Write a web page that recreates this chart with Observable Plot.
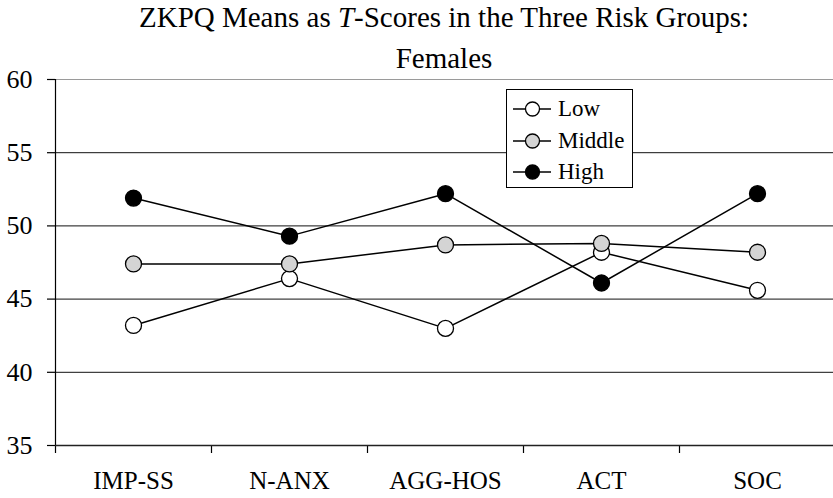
<!DOCTYPE html>
<html>
<head>
<meta charset="utf-8">
<script src="https://cdn.jsdelivr.net/npm/d3@7"></script>
<script src="https://cdn.jsdelivr.net/npm/@observablehq/plot@0.6"></script>
<style>
  html, body { margin: 0; padding: 0; background: white; }
  #wrap { position: relative; width: 833px; height: 498px; overflow: hidden; font-family: "Times New Roman", "Liberation Serif", Tinos, "DejaVu Serif", serif; }
  #title { position: absolute; top: -3px; left: 55px; width: 778px; text-align: center; font-size: 29px; line-height: 41px; color: black; white-space: nowrap; }
  #legend { position: absolute; left: 506px; top: 89px; width: 125px; height: 97px; border: 1px solid black; background: white; box-sizing: content-box; }
  .row { position: absolute; left: 0; height: 32px; width: 125px; font-size: 23px; }
  .row svg { position: absolute; left: 4px; top: 0; }
  .row span { position: absolute; left: 51px; top: 1px; line-height: 30px; }
</style>
</head>
<body>
<div id="wrap">
  <div id="chart"></div>
  <div id="title">ZKPQ Means as <i>T</i>-Scores in the Three Risk Groups:<br>Females</div>
  <div id="legend"></div>
</div>
<script>
const categories = ["IMP-SS", "N-ANX", "AGG-HOS", "ACT", "SOC"];
const groups = ["Low", "Middle", "High"];
const low    = [43.2, 46.4, 43.0, 48.2, 45.6];
const middle = [47.4, 47.4, 48.7, 48.8, 48.2];
const high   = [51.9, 49.3, 52.2, 46.1, 52.2];
const yTicks = [35, 40, 45, 50, 55, 60];
const groupFills = ["white", "#d4d4d4", "black"];

const seriesValues = [low, middle, high];
const data = [];
groups.forEach((g, gi) => {
  categories.forEach((c, ci) => {
    data.push({group: g, category: c, pos: ci + 0.5, value: seriesValues[gi][ci]});
  });
});
const bandEdges = categories.map((c, i) => i);
const bandCenters = categories.map((c, i) => i + 0.5);
const serif = "'Times New Roman', 'Liberation Serif', Tinos, serif";

const chart = Plot.plot({
  width: 833,
  height: 498,
  marginTop: 79,
  marginBottom: 53,
  marginLeft: 55,
  marginRight: -2,
  style: {fontFamily: serif, fontSize: "26px", background: "white", color: "black"},
  x: {domain: [0, categories.length], axis: null, label: null},
  y: {domain: [35, 60], axis: null, label: null},
  color: {domain: groups, range: groupFills},
  marks: [
    Plot.ruleY([40, 45, 50, 55], {stroke: "#111", strokeWidth: 1}),
    Plot.ruleY([60], {stroke: "#9a9a9a", strokeWidth: 1.2}),
    Plot.axisY({ticks: yTicks, label: null, tickSize: 8, tickPadding: 15, fontSize: 26, fontFamily: serif, stroke: "black", strokeWidth: 1.2}),
    Plot.ruleX([0], {y1: 35, y2: 60, stroke: "black", strokeWidth: 1.2}),
    Plot.axisX({ticks: bandEdges, label: null, tickSize: 8, tickFormat: () => "", stroke: "black", strokeWidth: 1.2}),
    Plot.axisX({ticks: bandCenters, label: null, tickSize: 0, tickPadding: 26, fontSize: 25, fontFamily: serif, tickFormat: d => categories[Math.round(d - 0.5)]}),
    Plot.ruleY([35], {stroke: "#222", strokeWidth: 1.6}),
    Plot.line(data, {x: "pos", y: "value", z: "group", stroke: "black", strokeWidth: 1.5}),
    Plot.dot(data, {x: "pos", y: "value", r: 8, fill: "group", stroke: "black", strokeWidth: 1.3})
  ]
});
document.getElementById("chart").appendChild(chart);

// Legend
const legend = document.getElementById("legend");
groups.forEach((g, i) => {
  const row = document.createElement("div");
  row.className = "row";
  row.style.top = (3 + i * 31.5) + "px";
  const svg = d3.create("svg").attr("width", 44).attr("height", 32);
  svg.append("line").attr("x1", 2).attr("x2", 40).attr("y1", 16).attr("y2", 16).attr("stroke", "black").attr("stroke-width", 1.5);
  svg.append("circle").attr("cx", 21.5).attr("cy", 16).attr("r", 7).attr("fill", chart.scale("color").apply(g)).attr("stroke", "black").attr("stroke-width", 1.3);
  row.appendChild(svg.node());
  const span = document.createElement("span");
  span.textContent = g;
  row.appendChild(span);
  legend.appendChild(row);
});
</script>
</body>
</html>
